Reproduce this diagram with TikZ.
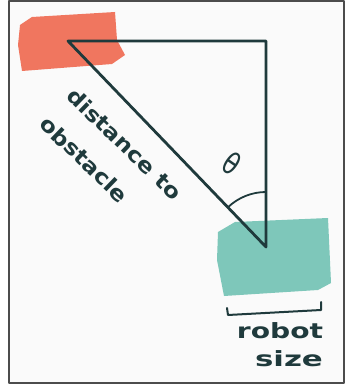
\documentclass[tikz,border=0pt]{standalone}
\usepackage{fontspec}
\setmainfont{DejaVu Sans}
\usetikzlibrary{positioning}

\definecolor{obstred}{HTML}{F0765F}
\definecolor{robotteal}{HTML}{7EC7BA}
\definecolor{inkline}{HTML}{1F3A3C}

\begin{document}
\begin{tikzpicture}[x=1pt, y=-1pt, line join=round, line cap=round,
    hand/.style={text=inkline, font=\bfseries\fontsize{21}{39}\selectfont, inner sep=0pt},
    edge/.style={inkline, line width=2.8pt}]
				\useasboundingbox (0,0) rectangle (345,387);
				% frame
				\fill[white] (0,0) rectangle (345,387);
				\draw[fill=black!2, draw=black!70, line width=1.5pt] (9,1) rectangle (344,383);
				
				% obstacle and robot patches
				\fill[obstred] (20,25) -- (32,17) -- (115,12) -- (117,40) -- (125,55) -- (112,64) -- (22,71) -- (18,45) -- cycle;
				\fill[robotteal] (218,232) -- (235,222) -- (328,218) -- (331,283) -- (318,290) -- (224,296) -- (217,260) -- cycle;
				
				% triangle
				\coordinate (obstacle) at (68,41);
				\coordinate (corner) at (266,41);
				\coordinate (robot) at (266,247);
				\draw[edge] (obstacle) -- (corner) -- (robot) -- cycle;
				\draw[inkline, line width=1.8pt] (robot) ++(226:55) arc[start angle=226, end angle=270, radius=55];
				
				% labels
				\node[hand, align=left, rotate=-44, xscale=1.13] (lblDist) at (111,158) {distance to\\obstacle};
				\node[hand, font=\fontsize{30}{30}\selectfont, rotate=-35, xscale=0.8] (lblTheta) at (232,163) {θ};
				
				% robot size
				\coordinate (brL) at (227,308);
				\coordinate (brR) at (321,302);
				\draw[inkline, line width=2pt] (brL) -- ++(1,7) -- ++(93,-5) -- (brR);
				\node[hand, xscale=1.34] (lblRobot) at (280,331) {robot};
				\node[hand, xscale=1.47] (lblSize) at (289,359) {size};
			\end{tikzpicture}
\end{document}
